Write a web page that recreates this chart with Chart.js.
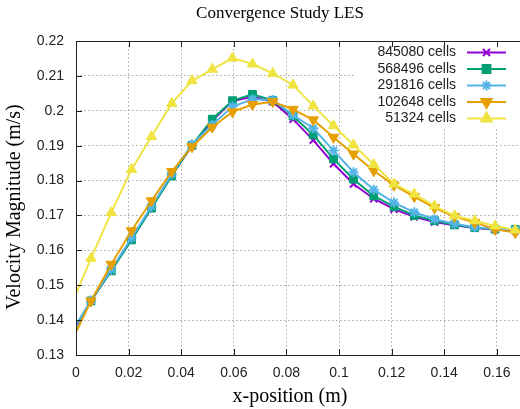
<!DOCTYPE html>
<html>
<head>
<meta charset="utf-8">
<script src="https://cdn.jsdelivr.net/npm/chart.js@4.4.1/dist/chart.umd.min.js"></script>
<style>
  html, body { margin: 0; padding: 0; background: #fff; }
</style>
</head>
<body>
<canvas id="velChart" width="520" height="409"></canvas>
<script>
// sample positions along x (m); the first one sits just left of the axis and gets clipped
const xPos = [-0.0020, 0.0057, 0.0134, 0.0211, 0.0287, 0.0364, 0.0441, 0.0518, 0.0595, 0.0671, 0.0748, 0.0825,
              0.0902, 0.0979, 0.1055, 0.1132, 0.1209, 0.1286, 0.1363, 0.1439, 0.1516, 0.1593, 0.1670];

const seriesLabels = ['845080 cells', '568496 cells', '291816 cells', '102648 cells', '51324 cells'];

const vel845080 = [0.1357, 0.1455, 0.1542, 0.1632, 0.1722, 0.1815, 0.1900, 0.1972, 0.2028, 0.2040, 0.2026, 0.1976,
                   0.1916, 0.1848, 0.1790, 0.1748, 0.1718, 0.1696, 0.1681, 0.1672, 0.1664, 0.1660, 0.1656];
const vel568496 = [0.1360, 0.1455, 0.1541, 0.1630, 0.1721, 0.1813, 0.1901, 0.1976, 0.2029, 0.2047, 0.2030, 0.1985,
                   0.1931, 0.1862, 0.1804, 0.1756, 0.1725, 0.1700, 0.1685, 0.1673, 0.1665, 0.1661, 0.1660];
const vel291816 = [0.1362, 0.1456, 0.1545, 0.1636, 0.1726, 0.1818, 0.1904, 0.1960, 0.2012, 0.2033, 0.2031, 0.1988,
                   0.1950, 0.1886, 0.1824, 0.1774, 0.1737, 0.1709, 0.1689, 0.1676, 0.1666, 0.1662, 0.1658];
const vel102648 = [0.1334, 0.1455, 0.1560, 0.1656, 0.1742, 0.1826, 0.1897, 0.1953, 0.1997, 0.2018, 0.2026, 0.2004,
                   0.1974, 0.1924, 0.1876, 0.1828, 0.1787, 0.1754, 0.1722, 0.1697, 0.1680, 0.1660, 0.1651];
const vel51324  = [0.1440, 0.1577, 0.1708, 0.1832, 0.1926, 0.2021, 0.2086, 0.2119, 0.2151, 0.2134, 0.2107, 0.2074,
                   0.2014, 0.1957, 0.1902, 0.1846, 0.1790, 0.1761, 0.1727, 0.1699, 0.1685, 0.1670, 0.1658];

const xTickLabels = ['0', '0.02', '0.04', '0.06', '0.08', '0.1', '0.12', '0.14', '0.16'];
const yTickLabels = ['0.13', '0.14', '0.15', '0.16', '0.17', '0.18', '0.19', '0.2', '0.21', '0.22'];

const colors = ['#9400d3', '#009e73', '#56b4e9', '#e69f00', '#f0e442'];
const styles = [
    { pointStyle: 'crossRot', radius: 5, rotation: 0, bw: 2 },
    { pointStyle: 'rect', radius: 5.5, rotation: 0, bw: 1 },
    { pointStyle: 'star', radius: 5, rotation: 0, bw: 2 },
    { pointStyle: 'triangle', radius: 6, rotation: 180, bw: 1 },
    { pointStyle: 'triangle', radius: 6, rotation: 0, bw: 1 }
];

const sansFont = 'Liberation Sans';
const serifFont = 'Liberation Serif';

const allSeries = [vel845080, vel568496, vel291816, vel102648, vel51324];

const datasets = allSeries.map((vals, i) => ({
    label: seriesLabels[i],
    data: vals.map((v, j) => ({ x: xPos[j], y: v })),
    borderColor: colors[i],
    backgroundColor: colors[i],
    borderWidth: 2,
    pointStyle: styles[i].pointStyle,
    pointRotation: styles[i].rotation,
    pointRadius: ctx => (ctx.raw && ctx.raw.x < 0 ? 0 : styles[i].radius),
    pointBorderWidth: styles[i].bw,
    pointBackgroundColor: colors[i],
    pointBorderColor: colors[i],
    tension: 0,
    clip: { left: 0, top: 0, right: 2, bottom: 0 },
    order: 5 - i
}));

// gnuplot-like frame, inward ticks, opaque key, titles
const gnuFrame = {
    id: 'gnuFrame',
    afterDatasetsDraw(chart) {
        const ctx = chart.ctx;
        ctx.save();
        ctx.fillStyle = '#fff';
        ctx.fillRect(356, 42, 164, 85);
        ctx.font = '14px "' + sansFont + '"';
        ctx.textAlign = 'right';
        ctx.textBaseline = 'middle';
        chart.data.datasets.forEach((ds, i) => {
            const y = 52.5 + i * 16.5;
            ctx.fillStyle = '#222';
            ctx.fillText(ds.label, 456, y);
            ctx.strokeStyle = colors[i];
            ctx.lineWidth = 2;
            ctx.beginPath();
            ctx.moveTo(467, y);
            ctx.lineTo(506, y);
            ctx.stroke();
            ctx.fillStyle = colors[i];
            Chart.helpers.drawPoint(ctx, {
                pointStyle: styles[i].pointStyle,
                rotation: styles[i].rotation,
                radius: styles[i].radius,
                borderWidth: styles[i].bw
            }, 486.5, y);
        });
        ctx.restore();
    },
    afterDraw(chart) {
        const { ctx, chartArea: a, scales } = chart;
        ctx.save();
        ctx.strokeStyle = '#222';
        ctx.lineWidth = 1;
        ctx.beginPath();
        ctx.moveTo(a.left + 0.5, a.top);
        ctx.lineTo(a.left + 0.5, a.bottom + 0.5);
        ctx.lineTo(a.right, a.bottom + 0.5);
        ctx.moveTo(a.left, a.top + 0.5);
        ctx.lineTo(a.right, a.top + 0.5);
        scales.x.ticks.forEach(t => {
            const px = Math.round(scales.x.getPixelForValue(t.value)) + 0.5;
            ctx.moveTo(px, a.bottom);
            ctx.lineTo(px, a.bottom - 6);
            ctx.moveTo(px, a.top);
            ctx.lineTo(px, a.top + 6);
        });
        scales.y.ticks.forEach(t => {
            const py = Math.round(scales.y.getPixelForValue(t.value)) + 0.5;
            ctx.moveTo(a.left, py);
            ctx.lineTo(a.left + 6, py);
        });
        ctx.stroke();

        ctx.fillStyle = '#000';
        ctx.textAlign = 'center';
        ctx.textBaseline = 'middle';
        ctx.font = '17px "' + serifFont + '"';
        ctx.fillText('Convergence Study LES', 280, 14);
        ctx.font = '20px "' + serifFont + '"';
        ctx.fillText('x-position (m)', 290, 397);
        ctx.translate(15, 207);
        ctx.rotate(-Math.PI / 2);
        ctx.fillText('Velocity Magnitude (m/s)', 0, 0);
        ctx.restore();
    }
};

const ctx = document.getElementById('velChart').getContext('2d');
new Chart(ctx, {
    type: 'line',
    data: { datasets },
    options: {
        responsive: false,
        animation: false,
        devicePixelRatio: 1,
        layout: { autoPadding: false, padding: { top: 41, right: 0, left: 0, bottom: 0 } },
        plugins: {
            legend: { display: false },
            title: { display: false },
            tooltip: { enabled: false }
        },
        scales: {
            x: {
                type: 'linear',
                min: 0,
                max: 0.1688,
                afterBuildTicks: scale => {
                    scale.ticks = xTickLabels.map(t => ({ value: parseFloat(t) }));
                },
                afterFit: scale => {
                    scale.height = 54;
                    scale.paddingLeft = 0;
                    scale.paddingRight = 0;
                },
                ticks: {
                    callback: (value, index) => xTickLabels[index],
                    font: { family: sansFont, size: 14 },
                    color: '#222',
                    padding: 10,
                    maxRotation: 0,
                    autoSkip: false
                },
                grid: { color: '#a8a8a8', lineWidth: 1, drawTicks: false },
                border: { display: false, dash: [1.5, 2.5] }
            },
            y: {
                min: 0.13,
                max: 0.22,
                afterBuildTicks: scale => {
                    scale.ticks = yTickLabels.map(t => ({ value: parseFloat(t) }));
                },
                afterFit: scale => {
                    scale.width = 76;
                    scale.paddingTop = 0;
                    scale.paddingBottom = 0;
                },
                ticks: {
                    callback: (value, index) => yTickLabels[index],
                    font: { family: sansFont, size: 14 },
                    color: '#222',
                    padding: 12,
                    autoSkip: false
                },
                grid: { color: '#a8a8a8', lineWidth: 1, drawTicks: false },
                border: { display: false, dash: [1.5, 2.5] }
            }
        }
    },
    plugins: [gnuFrame]
});
</script>
</body>
</html>
